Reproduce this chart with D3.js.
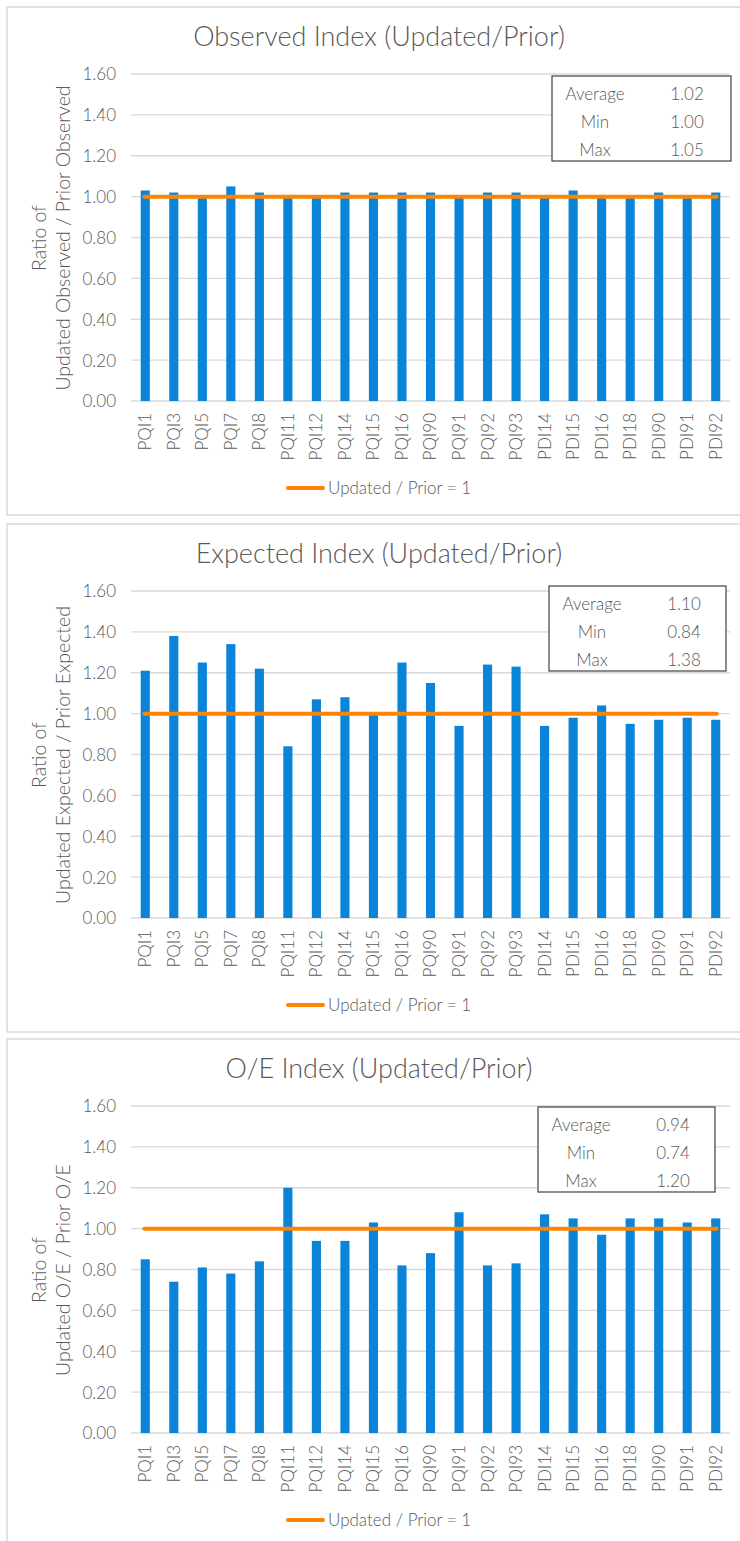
<!DOCTYPE html>
<html>
<head>
<meta charset="utf-8">
<script src="https://cdn.jsdelivr.net/npm/d3@7"></script>
<style>
  body { margin: 0; background: #fff; }
  text { font-family: Lato, "Open Sans", sans-serif; font-weight: 300; fill: #595959; }
</style>
</head>
<body>
<div id="chart"></div>
<script>
// DATA
const categories = ["PQI1", "PQI3", "PQI5", "PQI7", "PQI8", "PQI11", "PQI12", "PQI14", "PQI15", "PQI16",
  "PQI90", "PQI91", "PQI92", "PQI93", "PDI14", "PDI15", "PDI16", "PDI18", "PDI90", "PDI91", "PDI92"];
const observedValues = [1.03, 1.02, 1.00, 1.05, 1.02, 1.00, 1.00, 1.02, 1.02, 1.02,
  1.02, 1.00, 1.02, 1.02, 1.00, 1.03, 1.00, 1.00, 1.02, 1.00, 1.02];
const expectedValues = [1.21, 1.38, 1.25, 1.34, 1.22, 0.84, 1.07, 1.08, 1.00, 1.25,
  1.15, 0.94, 1.24, 1.23, 0.94, 0.98, 1.04, 0.95, 0.97, 0.98, 0.97];
const oeValues = [0.85, 0.74, 0.81, 0.78, 0.84, 1.20, 0.94, 0.94, 1.03, 0.82,
  0.88, 1.08, 0.82, 0.83, 1.07, 1.05, 0.97, 1.05, 1.05, 1.03, 1.05];
const statLabels = ["Average", "Min", "Max"];
const observedStats = ["1.02", "1.00", "1.05"];
const expectedStats = ["1.10", "0.84", "1.38"];
const oeStats = ["0.94", "0.74", "1.20"];
const yTicks = [0, 0.2, 0.4, 0.6, 0.8, 1.0, 1.2, 1.4, 1.6];
const referenceValue = 1;
const legendLabel = "Updated / Prior = 1";

const width = 740;
const height = 1541;

const panels = [
  { title: "Observed Index (Updated/Prior)", yTitle: "Updated Observed / Prior Observed",
    values: observedValues, stats: observedStats, top: 0, box: [552, 731], boxTop: 76 },
  { title: "Expected Index (Updated/Prior)", yTitle: "Updated Expected / Prior Expected",
    values: expectedValues, stats: expectedStats, top: 517, box: [549, 726], boxTop: 69 },
  { title: "O/E Index (Updated/Prior)", yTitle: "Updated O/E / Prior O/E",
    values: oeValues, stats: oeStats, top: 1032, box: [538, 715], boxTop: 75 },
];

const svg = d3.select("div#chart")
  .append("svg")
  .attr("width", width)
  .attr("height", height);

const x = d3.scaleBand()
  .domain(categories)
  .range([131, 730])
  .paddingInner(0.68)
  .paddingOuter(0.34);

panels.forEach(drawPanel);

function drawPanel(p) {
  const g = svg.append("g").attr("transform", `translate(0, ${p.top})`);

  // borde del panel
  g.append("rect")
    .attr("x", 7).attr("y", 7)
    .attr("width", 760).attr("height", 508)
    .attr("fill", "none")
    .attr("stroke", "#d9d9d9")
    .attr("stroke-width", 1.5);

  g.append("text")
    .attr("x", 379).attr("y", 46)
    .attr("text-anchor", "middle")
    .style("font-size", "27px")
    .text(p.title);

  const y = d3.scaleLinear().domain([0, 1.6]).range([401, 74]);

  // grid
  g.append("g")
    .selectAll("line")
    .data(yTicks)
    .join("line")
    .attr("x1", 131).attr("x2", 730)
    .attr("y1", (d) => y(d)).attr("y2", (d) => y(d))
    .attr("stroke", "#d9d9d9")
    .attr("stroke-width", 1.3);

  const yAxis = d3.axisLeft(y).tickValues(yTicks).tickFormat(d3.format(".2f")).tickSize(0).tickPadding(0);
  const yAxisGroup = g.append("g").attr("transform", "translate(116, 0)").call(yAxis);
  yAxisGroup.select(".domain").remove();
  yAxisGroup.selectAll("text")
    .attr("dy", "0.35em")
    .style("font-size", "17px")
    .style("font-family", null);

  // titulo eje y (dos lineas)
  const yt = g.append("text")
    .attr("transform", "translate(0, 238) rotate(-90)")
    .attr("text-anchor", "middle")
    .style("font-size", "19.5px");
  yt.append("tspan").attr("x", 0).attr("y", 46).text("Ratio of");
  yt.append("tspan").attr("x", 0).attr("y", 70).text(p.yTitle);

  // barras
  g.append("g")
    .selectAll("rect")
    .data(p.values)
    .join("rect")
    .attr("x", (d, i) => x(categories[i]))
    .attr("y", (d) => y(d))
    .attr("width", x.bandwidth())
    .attr("height", (d) => y(0) - y(d))
    .attr("fill", "#0a84d8");

  // linea de referencia
  g.append("line")
    .attr("x1", x(categories[0]) + x.bandwidth() / 2 - 1)
    .attr("x2", x(categories[categories.length - 1]) + x.bandwidth() / 2 + 1)
    .attr("y1", y(referenceValue)).attr("y2", y(referenceValue))
    .attr("stroke", "#ff8500")
    .attr("stroke-width", 4)
    .attr("stroke-linecap", "round");

  // etiquetas eje x
  const xAxis = d3.axisBottom(x).tickSize(0).tickPadding(0);
  const xAxisGroup = g.append("g").attr("transform", "translate(0, 401)").call(xAxis);
  xAxisGroup.select(".domain").remove();
  xAxisGroup.selectAll("text")
    .attr("transform", "rotate(-90)")
    .attr("x", -12)
    .attr("y", 0)
    .attr("dy", "0.35em")
    .attr("text-anchor", "end")
    .style("font-size", "17px")
    .style("font-family", null);

  // leyenda
  g.append("line")
    .attr("x1", 288).attr("x2", 323)
    .attr("y1", 488).attr("y2", 488)
    .attr("stroke", "#ff8500")
    .attr("stroke-width", 4)
    .attr("stroke-linecap", "round");
  g.append("text")
    .attr("x", 328).attr("y", 488)
    .attr("dy", "0.35em")
    .style("font-size", "17px")
    .text(legendLabel);

  // caja de estadisticas
  const bx0 = p.box[0], bx1 = p.box[1];
  g.append("rect")
    .attr("x", bx0).attr("y", p.boxTop)
    .attr("width", bx1 - bx0).attr("height", 85)
    .attr("fill", "#fff")
    .attr("stroke", "#404040")
    .attr("stroke-width", 1.2);
  statLabels.forEach((label, i) => {
    const ty = p.boxTop + 18 + i * 28;
    g.append("text")
      .attr("x", bx0 + 43).attr("y", ty)
      .attr("dy", "0.35em")
      .attr("text-anchor", "middle")
      .style("font-size", "17px")
      .text(label);
    g.append("text")
      .attr("x", bx0 + 135).attr("y", ty)
      .attr("dy", "0.35em")
      .attr("text-anchor", "middle")
      .style("font-size", "17px")
      .text(p.stats[i]);
  });
}
</script>
</body>
</html>
